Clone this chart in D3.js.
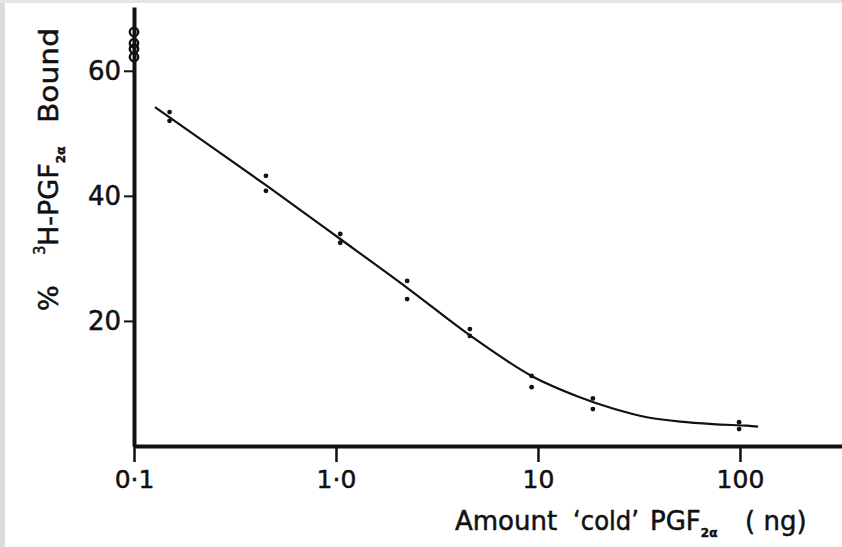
<!DOCTYPE html>
<html><head><meta charset="utf-8">
<script src="https://cdn.jsdelivr.net/npm/d3@7"></script>
<style>
html,body{margin:0;padding:0;background:#fff;}
svg{display:block;}
text{font-family:"DejaVu Sans",sans-serif;fill:#111;stroke:#111;stroke-width:0.5px;}
</style></head>
<body>
<script>
// ---- data ----
const doses = [0.15, 0.45, 1.05, 2.25, 4.6, 9.3, 18.7, 99];
const boundRep1 = [53.4, 43.2, 33.9, 26.4, 18.7, 11.2, 7.6, 3.8];
const boundRep2 = [52.0, 40.8, 32.5, 23.5, 17.6, 9.4, 5.9, 2.7];
const zeroDose = 0.1;
const zeroBound = [66.2, 64.4, 63.5, 62.2];
const curveDose = [0.127, 0.45, 1.05, 2.25, 4.6, 9.3, 16.1, 23.5, 34.6, 50.5, 73.5, 108, 123];
const curveBound = [54.2, 41.7, 33.1, 25.3, 17.7, 11.2, 7.8, 6.0, 4.6, 3.9, 3.5, 3.25, 3.1];
const xTicks = [0.1, 1, 10, 100];
const xTickLabels = ["0·1", "1·0", "10", "100"];
const yTicks = [20, 40, 60];

const W = 842, H = 547;
const FONT = "'DejaVu Sans',sans-serif";
const svg = d3.select("body").append("svg").attr("width", W).attr("height", H);

// scanned-page border
svg.append("rect").attr("x",0).attr("y",0).attr("width",W).attr("height",H).attr("fill","#fff");
svg.append("rect").attr("x",0).attr("y",0).attr("width",5).attr("height",H).attr("fill","#dcdcdc");
svg.append("rect").attr("x",0).attr("y",0).attr("width",W).attr("height",3).attr("fill","#e4e4e4");

const x = d3.scaleLog().domain([0.1, 320]).range([134, 842]);
const y = d3.scaleLinear().domain([0, 70.2]).range([446, 7]);

// x axis
const xAxis = svg.append("g").attr("transform", `translate(0,${y(0)})`)
  .call(d3.axisBottom(x).tickValues(xTicks)
    .tickFormat((d,i)=>xTickLabels[i]).tickSize(16).tickSizeOuter(0).tickPadding(8));
xAxis.select(".domain").attr("stroke","#111").attr("stroke-width",4);
xAxis.selectAll(".tick line").attr("stroke","#111").attr("stroke-width",2.5);
xAxis.selectAll(".tick text").attr("font-size",25).attr("fill","#111").attr("font-family",FONT);

// y axis
const yAxis = svg.append("g").attr("transform", `translate(${x(0.1)},0)`)
  .call(d3.axisLeft(y).tickValues(yTicks).tickSize(10).tickSizeOuter(0).tickPadding(3));
yAxis.select(".domain").attr("stroke","#111").attr("stroke-width",4);
yAxis.selectAll(".tick line").attr("stroke","#111").attr("stroke-width",2);
yAxis.selectAll(".tick text").attr("font-size",26).attr("fill","#111").attr("font-family",FONT);

// fitted curve
const pts = curveDose.map((d,i)=>[d, curveBound[i]]);
svg.append("path").datum(pts)
  .attr("d", d3.line().x(d=>x(d[0])).y(d=>y(d[1])).curve(d3.curveCatmullRom.alpha(0.5)))
  .attr("fill","none").attr("stroke","#111").attr("stroke-width",2.2);

// replicate points
const dots = doses.flatMap((d,i)=>[[d,boundRep1[i]],[d,boundRep2[i]]]);
svg.append("g").selectAll("circle").data(dots).join("circle")
  .attr("cx", d=>x(d[0])).attr("cy", d=>y(d[1])).attr("r", 2.4).attr("fill","#111");

// zero-dose open circles on axis
svg.append("g").selectAll("circle").data(zeroBound).join("circle")
  .attr("cx", x(zeroDose)).attr("cy", d=>y(d)).attr("r", 4.2)
  .attr("fill","none").attr("stroke","#111").attr("stroke-width",2.4);

// x axis title
const xt = svg.append("text").attr("y", 530).attr("font-size", 26);
xt.append("tspan").attr("x",455).text("Amount");
xt.append("tspan").attr("x",573).attr("textLength",66).attr("lengthAdjust","spacingAndGlyphs").text("\u2018cold\u2019");
xt.append("tspan").attr("x",650).text("PGF");
xt.append("tspan").attr("font-size",12).attr("dy",7).attr("font-weight","bold").text("2\u03b1");
xt.append("tspan").attr("x",745).attr("dy",-7).text("( ng)");

// y axis title (rotated)
const yt = svg.append("text").attr("transform","translate(58,0) rotate(-90)").attr("font-size",27);
yt.append("tspan").attr("x",-311).attr("y",0).text("%");
yt.append("tspan").attr("x",-255).attr("y",-13).attr("font-size",15).text("3");
yt.append("tspan").attr("x",-246).attr("y",0).text("H-PGF");
yt.append("tspan").attr("y",7).attr("font-size",12).attr("font-weight","bold").text("2\u03b1");
yt.append("tspan").attr("x",-123).attr("y",0).attr("textLength",95).attr("lengthAdjust","spacingAndGlyphs").text("Bound");
</script>
</body></html>
